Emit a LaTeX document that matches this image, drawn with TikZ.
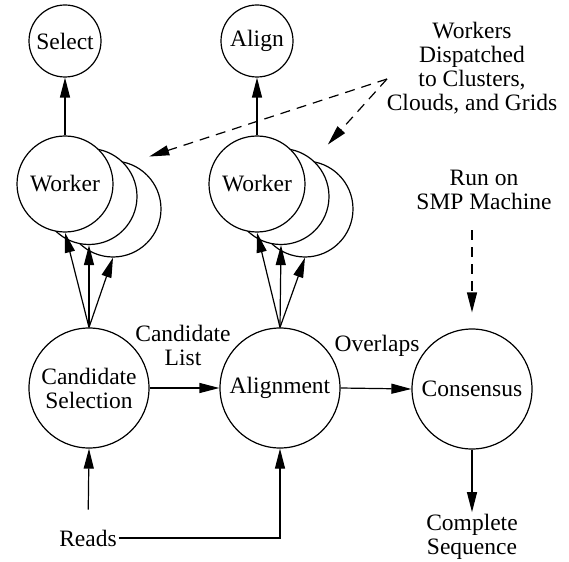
\documentclass[tikz,border=0pt]{standalone}
\usepackage{fontspec}
\setmainfont{Liberation Serif}
\usepackage{tikz}
\usetikzlibrary{arrows.meta, positioning}

\tikzset{
	proc/.style={circle, draw, line width=1.2pt, fill=white, inner sep=0pt, align=center},
	arr/.style={-{Triangle[length=20pt,width=10pt]}, line width=1.2pt},
	dasharr/.style={arr, dash pattern=on 10pt off 7pt},
	lbl/.style={align=center, inner sep=2pt}
}

\begin{document}
\begin{tikzpicture}[x=1pt, y=1pt, font=\fontsize{23.5}{24}\selectfont]
		\useasboundingbox (0,0) rectangle (569,-561);
		% Top tasks
		\node[proc, minimum size=72pt] (sel) at (65,-41) {Select};
		\node[proc, minimum size=72pt] (aln) at (257,-41) {Align};
		
		% Worker stacks (back to front)
		\node[proc, minimum size=96pt] (wkAc) at (113,-209) {};
		\node[proc, minimum size=96pt] (wkAb) at (89,-196.5) {};
		\node[proc, minimum size=96pt] (wkA) at (65,-184) {Worker};
		\node[proc, minimum size=96pt] (wkBc) at (305,-209) {};
		\node[proc, minimum size=96pt] (wkBb) at (281,-196.5) {};
		\node[proc, minimum size=96pt] (wkB) at (257,-184) {Worker};
		
		% Main stages
		\node[proc, minimum size=120pt] (cand) at (89,-388) {Candidate\\Selection};
		\node[proc, minimum size=120pt] (algn) at (280,-388) {Alignment};
		\node[proc, minimum size=120pt] (cons) at (472,-389) {Consensus};
		
		% Labels
		\node[lbl] (reads) at (88,-538) {Reads};
		\node[lbl] (clist) at (183,-345) {Candidate\\List};
		\node[lbl] (ovl) at (377,-346) {Overlaps};
		\node[lbl] (smp) at (484,-190) {Run on\\SMP Machine};
		\node[lbl] (disp) at (472,-68) {Workers\\Dispatched\\to Clusters,\\Clouds, and Grids};
		\node[lbl] (done) at (472,-537) {Complete\\Sequence};
		\coordinate (dsp) at (387,-79);
		
		% Worker results
		\draw[arr] (wkA.north) -- (sel.south);
		\draw[arr] (wkB.north) -- (aln.south);
		
		% Fan out to workers
		\draw[arr] (cand.north) -- (wkA.south);
		\draw[arr] (cand.north) -- (wkAb.south);
		\draw[arr] (cand.north) -- (wkAc.south);
		\draw[arr] (algn.north) -- (wkB.south);
		\draw[arr] (algn.north) -- (wkBb.south);
		\draw[arr] (algn.north) -- (wkBc.south);
		
		% Pipeline
		\draw[arr] (cand.east) -- (algn.west);
		\draw[arr] (algn.east) -- (cons.west);
		\draw[arr] (cons.south) -- (done.north);
		\draw[arr, shorten <=18pt] (reads.north) -- (cand.south);
		\draw[arr] (reads.east) -| (algn.south);
		
		% Where things run
		\draw[dasharr, shorten >=40pt] (dsp) -- (wkA);
		\draw[dasharr, shorten >=70pt] (dsp) -- (wkBb.center);
		\draw[dasharr, shorten <=18pt, shorten >=16pt] (smp.south -| cons.north) -- (cons.north);
\end{tikzpicture}
\end{document}
